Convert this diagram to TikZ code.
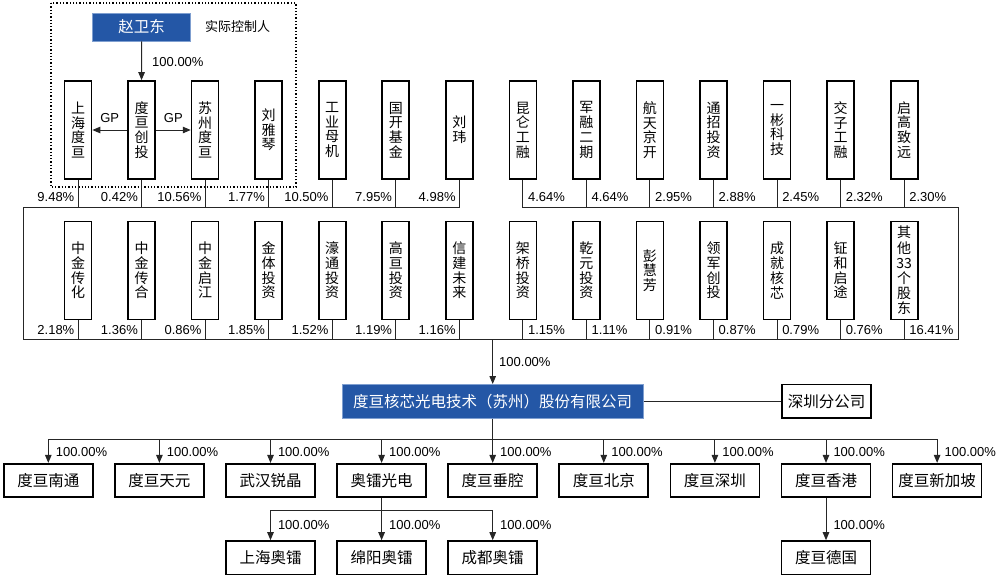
\documentclass[tikz,border=0pt]{standalone}
\usepackage{fontspec}
\setmainfont{Liberation Sans}
\newfontfamily\cjk{Noto Sans CJK SC}
\usetikzlibrary{arrows.meta,calc}
\definecolor{corpblue}{HTML}{2457A6}
\definecolor{edgeblue}{HTML}{7F9FD0}
\begin{document}
\begin{tikzpicture}[x=1pt,y=-1pt,
  line/.style={line width=1pt,draw=black!85},
  arr/.style={line, -{Triangle[length=8pt,width=6.5pt]}},
  vbox/.style={draw, line width=1.7pt, minimum width=27pt, minimum height=98pt,
    inner sep=0pt, align=center, font=\cjk\fontsize{14}{14.7}\selectfont},
  hbox/.style={draw, line width=1.7pt, minimum width=89pt, minimum height=33.5pt,
    inner sep=0pt, font=\cjk\fontsize{15.5}{16}\selectfont},
  bluebox/.style={fill=corpblue, draw=edgeblue, line width=0.6pt, text=white,
    inner sep=0pt, font=\cjk\fontsize{15.5}{16}\selectfont},
  pct/.style={inner sep=0pt, font=\fontsize{13}{14}\selectfont},
  pl/.style={pct, anchor=east},
  pr/.style={pct, anchor=west},
  note/.style={inner sep=0pt, font=\cjk\fontsize{13}{14}\selectfont}]
\useasboundingbox (0,0) rectangle (1000,579);

% group of the actual controller
\draw[line width=1.3pt, dash pattern=on 1.3pt off 2pt] (51,3) rectangle (296,187);
\node[bluebox, minimum width=98pt, minimum height=28pt] (zw) at (141.7,27) {赵卫东};
\node[note, anchor=west] (ctl) at (205,27) {实际控制人};

% upper row of shareholders
\node[vbox] (t1)  at (78,130)     {上\\海\\度\\亘};
\node[vbox] (t2)  at (141.55,130) {度\\亘\\创\\投};
\node[vbox] (t3)  at (205.1,130)  {苏\\州\\度\\亘};
\node[vbox] (t4)  at (268.65,130) {刘\\雅\\琴};
\node[vbox] (t5)  at (332.2,130)  {工\\业\\母\\机};
\node[vbox] (t6)  at (395.75,130) {国\\开\\基\\金};
\node[vbox] (t7)  at (459.3,130)  {刘\\玮};
\node[vbox] (t8)  at (522.85,130) {昆\\仑\\工\\融};
\node[vbox] (t9)  at (586.4,130)  {军\\融\\二\\期};
\node[vbox] (t10) at (649.95,130) {航\\天\\京\\开};
\node[vbox] (t11) at (713.5,130)  {通\\招\\投\\资};
\node[vbox] (t12) at (777.05,130) {一\\彬\\科\\技};
\node[vbox] (t13) at (840.6,130)  {交\\子\\工\\融};
\node[vbox] (t14) at (904.15,130) {启\\高\\致\\远};

% lower row of shareholders
\node[vbox] (m1)  at (78,270.5)     {中\\金\\传\\化};
\node[vbox] (m2)  at (141.55,270.5) {中\\金\\传\\合};
\node[vbox] (m3)  at (205.1,270.5)  {中\\金\\启\\江};
\node[vbox] (m4)  at (268.65,270.5) {金\\体\\投\\资};
\node[vbox] (m5)  at (332.2,270.5)  {濠\\通\\投\\资};
\node[vbox] (m6)  at (395.75,270.5) {高\\亘\\投\\资};
\node[vbox] (m7)  at (459.3,270.5)  {信\\建\\未\\来};
\node[vbox] (m8)  at (522.85,270.5) {架\\桥\\投\\资};
\node[vbox] (m9)  at (586.4,270.5)  {乾\\元\\投\\资};
\node[vbox] (m10) at (649.95,270.5) {彭\\慧\\芳};
\node[vbox] (m11) at (713.5,270.5)  {领\\军\\创\\投};
\node[vbox] (m12) at (777.05,270.5) {成\\就\\核\\芯};
\node[vbox] (m13) at (840.6,270.5)  {钲\\和\\启\\途};
\node[vbox, font=\cjk\fontsize{14}{15.2}\selectfont] (m14) at (904.15,270.5) {其\\他\\33\\个\\股\\东};

% controller links
\draw[arr] (zw.south) -- (t2.north);
\node[pr] at (152,61.7) {100.00\%};
\draw[arr] (t2.west) -- node[pct, midway, above=7pt] {GP} (t1.east);
\draw[arr] (t2.east) -- node[pct, midway, above=7pt] {GP} (t3.east -| t3.west);

% frame joining all shareholders
\coordinate (tl) at (23,207);
\coordinate (tr) at (958,207);
\coordinate (bl) at (23,339.5);
\coordinate (br) at (958,339.5);
\draw[line] (t7.south) -- (t7.south |- tl) -- (tl) -- (bl) -- (br) -- (tr) -- (t8.south |- tr) -- (t8.south);
\foreach \n in {t1,t2,t3,t4,t5,t6,t9,t10,t11,t12,t13,t14}
  \draw[line] (\n.south) -- (\n.south |- tl);
\foreach \n in {m1,m2,m3,m4,m5,m6,m7,m8,m9,m10,m11,m12,m13,m14}
  \draw[line] (\n.south) -- (\n.south |- bl);

% holdings, upper row
\node[pl] at ($(t1.south |- tl)+(-3.5,-10)$) {9.48\%};
\node[pl] at ($(t2.south |- tl)+(-3.5,-10)$) {0.42\%};
\node[pl] at ($(t3.south |- tl)+(-3.5,-10)$) {10.56\%};
\node[pl] at ($(t4.south |- tl)+(-3.5,-10)$) {1.77\%};
\node[pl] at ($(t5.south |- tl)+(-3.5,-10)$) {10.50\%};
\node[pl] at ($(t6.south |- tl)+(-3.5,-10)$) {7.95\%};
\node[pl] at ($(t7.south |- tl)+(-3.5,-10)$) {4.98\%};
\node[pr] at ($(t8.south |- tl)+(5,-10)$) {4.64\%};
\node[pr] at ($(t9.south |- tl)+(5,-10)$) {4.64\%};
\node[pr] at ($(t10.south |- tl)+(5,-10)$) {2.95\%};
\node[pr] at ($(t11.south |- tl)+(5,-10)$) {2.88\%};
\node[pr] at ($(t12.south |- tl)+(5,-10)$) {2.45\%};
\node[pr] at ($(t13.south |- tl)+(5,-10)$) {2.32\%};
\node[pr] at ($(t14.south |- tl)+(5,-10)$) {2.30\%};

% holdings, lower row
\node[pl] at ($(m1.south |- bl)+(-3.5,-9.5)$) {2.18\%};
\node[pl] at ($(m2.south |- bl)+(-3.5,-9.5)$) {1.36\%};
\node[pl] at ($(m3.south |- bl)+(-3.5,-9.5)$) {0.86\%};
\node[pl] at ($(m4.south |- bl)+(-3.5,-9.5)$) {1.85\%};
\node[pl] at ($(m5.south |- bl)+(-3.5,-9.5)$) {1.52\%};
\node[pl] at ($(m6.south |- bl)+(-3.5,-9.5)$) {1.19\%};
\node[pl] at ($(m7.south |- bl)+(-3.5,-9.5)$) {1.16\%};
\node[pr] at ($(m8.south |- bl)+(5,-9.5)$) {1.15\%};
\node[pr] at ($(m9.south |- bl)+(5,-9.5)$) {1.11\%};
\node[pr] at ($(m10.south |- bl)+(5,-9.5)$) {0.91\%};
\node[pr] at ($(m11.south |- bl)+(5,-9.5)$) {0.87\%};
\node[pr] at ($(m12.south |- bl)+(5,-9.5)$) {0.79\%};
\node[pr] at ($(m13.south |- bl)+(5,-9.5)$) {0.76\%};
\node[pr] at ($(m14.south |- bl)+(5,-9.5)$) {16.41\%};

% the company
\node[bluebox, minimum width=301pt, minimum height=34pt] (main) at (492.7,401.3) {度亘核芯光电技术（苏州）股份有限公司};
\coordinate (top) at (492.7,339.5);
\draw[arr] (top) -- node[pr, pos=0.5, xshift=6pt] {100.00\%} (main.north);
\node[hbox] (sz) at (826.7,401.3) {深圳分公司};
\draw[line] (main.east) -- (sz.west);

% subsidiaries
\node[hbox] (b1) at (48.3,480.5)  {度亘南通};
\node[hbox] (b2) at (159.4,480.5) {度亘天元};
\node[hbox] (b3) at (270.5,480.5) {武汉锐晶};
\node[hbox] (b4) at (381.6,480.5) {奥镭光电};
\node[hbox] (b5) at (492.7,480.5) {度亘垂腔};
\node[hbox] (b6) at (603.8,480.5) {度亘北京};
\node[hbox] (b7) at (714.9,480.5) {度亘深圳};
\node[hbox] (b8) at (826,480.5)   {度亘香港};
\node[hbox] (b9) at (937.1,480.5) {度亘新加坡};

\coordinate (bus) at (0,439);
\draw[line] (main.south) -- (b5.north |- bus);
\draw[line] (b1.north |- bus) -- (b9.north |- bus);
\foreach \n in {b1,b2,b3,b4,b5,b6,b7,b8,b9}
  \draw[arr] (\n.north |- bus) -- node[pr, pos=0.55, xshift=7pt] {100.00\%} (\n.north);

% second-level subsidiaries
\node[hbox] (s1) at (270.5,557.8) {上海奥镭};
\node[hbox] (s2) at (381.6,557.8) {绵阳奥镭};
\node[hbox] (s3) at (492.7,557.8) {成都奥镭};
\node[hbox] (d1) at (826,557.8)   {度亘德国};

\coordinate (sbus) at (0,510);
\draw[line] (b4.south) -- (b4.south |- sbus);
\draw[line] (s1.north |- sbus) -- (s3.north |- sbus);
\foreach \n in {s1,s2,s3}
  \draw[arr] (\n.north |- sbus) -- node[pr, pos=0.5, xshift=7pt] {100.00\%} (\n.north);
\draw[arr] (b8.south) -- node[pr, pos=0.63, xshift=7pt] {100.00\%} (d1.north);
\end{tikzpicture}
\end{document}
